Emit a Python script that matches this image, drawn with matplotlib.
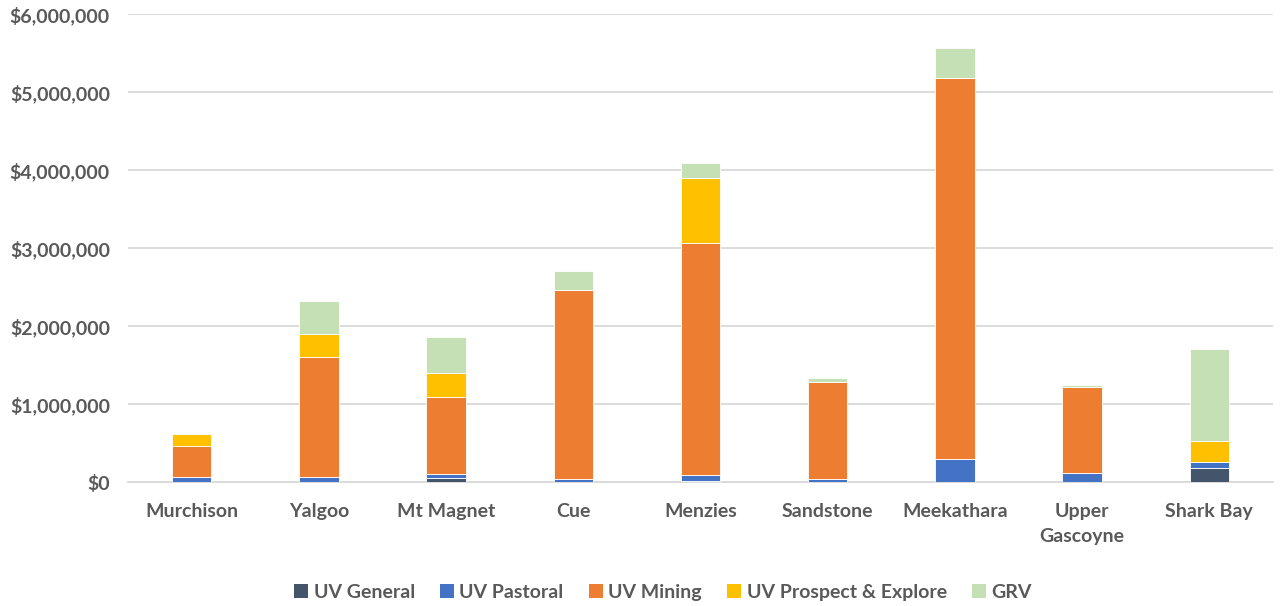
import matplotlib.pyplot as plt
import numpy as np
from matplotlib.ticker import FuncFormatter
from matplotlib.patches import Patch

plt.rcParams['font.family'] = ['Lato', 'DejaVu Sans']

shires = ['Murchison', 'Yalgoo', 'Mt Magnet', 'Cue', 'Menzies', 'Sandstone',
          'Meekathara', 'Upper\nGascoyne', 'Shark Bay']
uv_general = [0, 0, 46000, 0, 17000, 0, 5000, 0, 175000]
uv_pastoral = [64000, 64000, 52000, 40000, 68000, 40000, 285000, 120000, 82000]
uv_mining = [393000, 1536000, 988000, 2420000, 2978000, 1248000, 4890000, 1095000, 0]
uv_prospect = [163000, 295000, 308000, 0, 834000, 0, 0, 0, 264000]
grv = [0, 432000, 471000, 249000, 198000, 51000, 380000, 30000, 1186000]

series = [
    ('UV General', uv_general, '#44546A'),
    ('UV Pastoral', uv_pastoral, '#4472C4'),
    ('UV Mining', uv_mining, '#ED7D31'),
    ('UV Prospect & Explore', uv_prospect, '#FFC000'),
    ('GRV', grv, '#C5E0B4'),
]

fig = plt.figure(figsize=(12.8, 6.06), dpi=100)
ax = fig.add_axes([0.1, 0.2046, 0.8945, 0.7723])

x = np.arange(len(shires))
bottom = np.zeros(len(shires))
for name, vals, col in series:
    vals = np.array(vals, dtype=float)
    ax.bar(x, vals, 0.31, bottom=bottom, color=col, edgecolor='white',
           linewidth=0.6, label=name, zorder=3)
    bottom += vals

txt = '#595959'
ax.set_ylim(0, 6000000)
ax.set_xlim(-0.5, len(shires) - 0.5)
ax.set_yticks(np.arange(0, 6000001, 1000000))
ax.yaxis.set_major_formatter(FuncFormatter(lambda v, p: '${:,.0f}'.format(v)))
ax.grid(axis='y', color='#d9d9d9', linewidth=1.3, zorder=0)
ax.set_xticks(x)
ax.set_xticklabels(shires, linespacing=1.6)
ax.tick_params(axis='both', length=0, colors=txt, labelsize=14)
ax.tick_params(axis='x', pad=15)
ax.tick_params(axis='y', pad=13)
for lbl in ax.get_xticklabels() + ax.get_yticklabels():
    lbl.set_fontweight('bold')
for s in ['top', 'right', 'left']:
    ax.spines[s].set_visible(False)
ax.spines['bottom'].set_color('#d9d9d9')
ax.spines['bottom'].set_linewidth(1.3)

handles = [Patch(facecolor=c, label=n) for n, v, c in series]
leg = fig.legend(handles=handles, loc='center', bbox_to_anchor=(0.518, 0.023),
                 ncol=5, frameon=False, handlelength=0.7, handleheight=0.7,
                 handletextpad=0.3, columnspacing=1.3,
                 prop={'size': 14, 'weight': 'bold'})
for t in leg.get_texts():
    t.set_color(txt)

fig.savefig('out.png', dpi=100)
